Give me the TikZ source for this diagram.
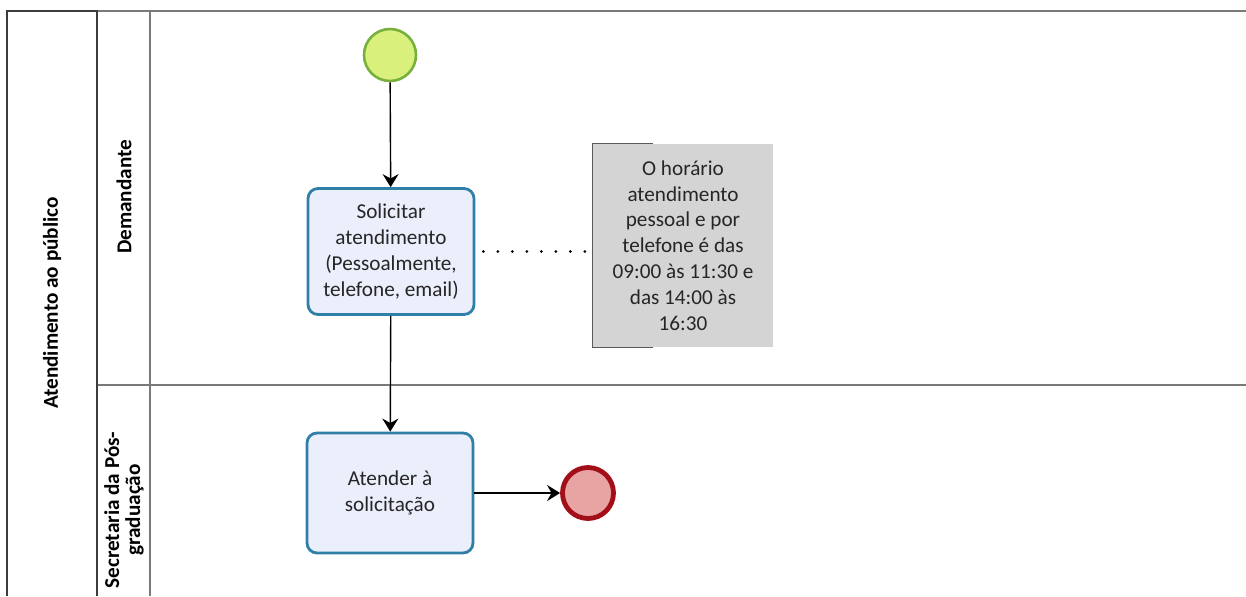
\documentclass[tikz,border=0pt]{standalone}
\usepackage{fontspec}
\setmainfont{Carlito}
\usetikzlibrary{arrows.meta}
\definecolor{poolgray}{HTML}{3C3C3C}
\definecolor{lanegray}{HTML}{7A7A7A}
\definecolor{taskblue}{HTML}{2F7FA6}
\definecolor{taskfill}{HTML}{EBEEFB}
\definecolor{startline}{HTML}{78B03E}
\definecolor{startfill}{HTML}{D9F07C}
\definecolor{endline}{HTML}{A30F18}
\definecolor{endfill}{HTML}{E8A3A3}
\definecolor{notefill}{HTML}{D4D4D4}
\definecolor{noteline}{HTML}{5A5A5A}

\begin{document}
\begin{tikzpicture}[x=0.5pt,y=-0.5pt,
    txt/.style={font=\fontsize{10.6}{12.9}\selectfont,text=black!85},
    lanelabel/.style={font=\bfseries\fontsize{10.6}{10.5}\selectfont,align=center,rotate=90},
    task/.style={txt,draw=taskblue,fill=taskfill,line width=1.4pt,rounded corners=5pt,
      minimum width=83pt,align=center,inner sep=0pt},
    flow/.style={-{Stealth[length=6.5pt,width=8pt,inset=2.2pt]},line width=0.7pt},
    assoc/.style={line width=1.5pt,line cap=round,dash pattern=on 0pt off 7.25pt}]
  \useasboundingbox (0,0) rectangle (1246,596);
  \draw[lanegray,line width=1pt] (97,11) -- (1246,11)
    (150,11) -- (150,596) (97,385) -- (1246,385);
  \draw[poolgray,line width=1pt] (7,596) -- (7,11) -- (97,11) -- (97,596);
  \draw
    (52,303) node[lanelabel] (pool){Atendimento ao público}
    (124,197) node[lanelabel] (demandante){Demandante}
    (124,510) node[lanelabel] (secretaria){Secretaria da Pós-\\graduação};
  \node[circle,draw=startline,fill=startfill,line width=1.3pt,minimum size=26pt,inner sep=0pt]
    (inicio) at (390,55) {};
  \node[task,minimum height=63pt] (solicitar) at (391,251.5)
    {Solicitar\\atendimento\\(Pessoalmente,\\telefone, email)};
  \node[task,minimum height=60pt] (atender) at (390,493) {Atender à\\solicitação};
  \node[circle,draw=endline,fill=endfill,line width=2.4pt,minimum size=25.5pt,inner sep=0pt]
    (fim) at (588,493) {};
  \node[txt,fill=notefill,minimum width=90pt,minimum height=101.5pt,align=center,inner sep=0pt]
    (nota) at (683,245.5)
    {O horário\\atendimento\\pessoal e por\\telefone é das\\09:00 às 11:30 e\\das 14:00 às\\16:30};
  \draw[noteline,line width=0.7pt] ([xshift=30pt]nota.north west) -- (nota.north west)
    -- (nota.south west) -- ([xshift=30pt]nota.south west);
  \begin{scope}[flow]
    \draw (inicio) -- (solicitar);
    \draw (solicitar) -- (atender);
    \draw (atender) -- (fim);
  \end{scope}
  \draw[assoc] ([xshift=4pt]solicitar.east) -- (solicitar.east -| nota.west);
\end{tikzpicture}
\end{document}
